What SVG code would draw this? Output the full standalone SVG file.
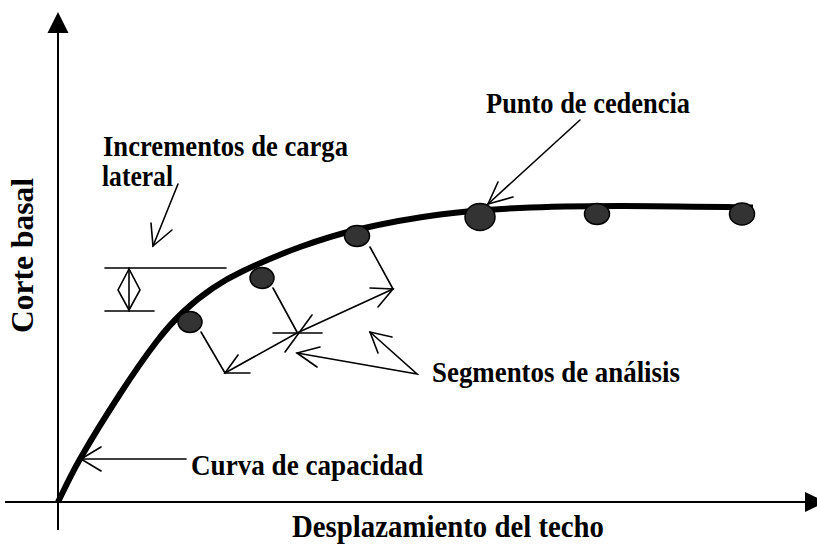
<svg xmlns="http://www.w3.org/2000/svg" width="817" height="544" viewBox="0 0 817 544">
<style>
.lbl{font-family:"Liberation Serif","Times New Roman",serif;font-weight:bold;font-size:29.5px;fill:#000}
.big{font-size:31px}
.ln{stroke:#000;stroke-width:1.6;fill:none;stroke-linecap:round}
.ax{stroke:#000;stroke-width:2;fill:none}
.dot{fill:#333;stroke:#000;stroke-width:1.5}
</style>
<rect width="817" height="544" fill="#fff"/>
<g id="axes">
<line class="ax" x1="58" y1="30" x2="58" y2="530"/>
<polygon points="58,12 47.5,33 68.5,33" fill="#000"/>
<line class="ax" x1="5" y1="502" x2="808" y2="502"/>
<polygon points="826,502 805,492 805,512" fill="#000"/>
</g>
<g id="curve">
<path d="M58,502 C61.7,494.8 69.7,477 80,459 C90.3,441 107.2,413.7 120,394 C132.8,374.3 146.5,354.7 157,341 C167.5,327.3 173.7,320.8 183,312 C192.3,303.2 203,294.8 213,288 C223,281.2 228.5,277.8 243,271 C257.5,264.2 280.5,254 300,247 C319.5,240 336.7,234.4 360,229 C383.3,223.6 413.3,218 440,214.5 C466.7,211 490,209.4 520,208 C550,206.6 581.2,206.1 620,206 C658.8,205.9 730.8,207.25 753,207.5" fill="none" stroke="#000" stroke-width="6"/>
</g>
<g id="connectors">
<line class="ln" x1="201" y1="332" x2="225" y2="373"/>
<line class="ln" x1="273" y1="288" x2="297" y2="332"/>
<line class="ln" x1="370" y1="247" x2="393" y2="289"/>
<polyline class="ln" points="225,373 297,333 393,289"/>
<polyline class="ln" points="238,355 225,373 250,373"/>
<polyline class="ln" points="370,288 393,289 378,307"/>
<line class="ln" x1="273" y1="333" x2="322" y2="333"/>
<line class="ln" x1="285" y1="352" x2="312" y2="315"/>
<polyline class="ln" points="297,353 417,374 370,332"/>
<polyline class="ln" points="320,347 297,353 317,367"/>
<polyline class="ln" points="392,337 370,332 378,353"/>
<line class="ln" x1="580" y1="120" x2="488" y2="204"/>
<polyline class="ln" points="498,182 488,204 513,197"/>
<line class="ln" x1="178" y1="184" x2="153" y2="246"/>
<polyline class="ln" points="151,223 153,246 172,230"/>
<line class="ln" x1="186" y1="459" x2="81" y2="459"/>
<polyline class="ln" points="101,447 81,459 101,471"/>
<line class="ln" x1="105" y1="268" x2="226" y2="268"/>
<line class="ln" x1="105" y1="311" x2="154" y2="311"/>
<line class="ln" x1="129" y1="268" x2="129" y2="311"/>
<polygon class="ln" points="129,269 118,290 129,310 140,290"/>
</g>
<g id="dot1"><ellipse class="dot" cx="190" cy="322" rx="12" ry="10.5"/></g>
<g id="dot2"><ellipse class="dot" cx="262" cy="278" rx="12" ry="10.5"/></g>
<g id="dot3"><ellipse class="dot" cx="357" cy="236" rx="12.5" ry="10.5"/></g>
<g id="dot4"><ellipse class="dot" cx="480" cy="217" rx="15" ry="13.5"/></g>
<g id="dot5"><ellipse class="dot" cx="597" cy="214" rx="12.5" ry="10.5"/></g>
<g id="dot6"><ellipse class="dot" cx="742" cy="214" rx="12.5" ry="11"/></g>
<g id="labels">
<text class="lbl" x="486" y="113" textLength="204" lengthAdjust="spacingAndGlyphs">Punto de cedencia</text>
<text class="lbl" x="103" y="156" textLength="245" lengthAdjust="spacingAndGlyphs">Incrementos de carga</text>
<text class="lbl" x="102" y="186" textLength="71" lengthAdjust="spacingAndGlyphs">lateral</text>
<text class="lbl" x="432" y="382" textLength="248" lengthAdjust="spacingAndGlyphs">Segmentos de análisis</text>
<text class="lbl" x="191" y="475" textLength="232" lengthAdjust="spacingAndGlyphs">Curva de capacidad</text>
<text class="lbl big" x="292" y="537" textLength="312" lengthAdjust="spacingAndGlyphs">Desplazamiento del techo</text>
<text class="lbl big" transform="translate(33,333) rotate(-90)" x="0" y="0" textLength="155" lengthAdjust="spacingAndGlyphs">Corte basal</text>
</g>
</svg>
